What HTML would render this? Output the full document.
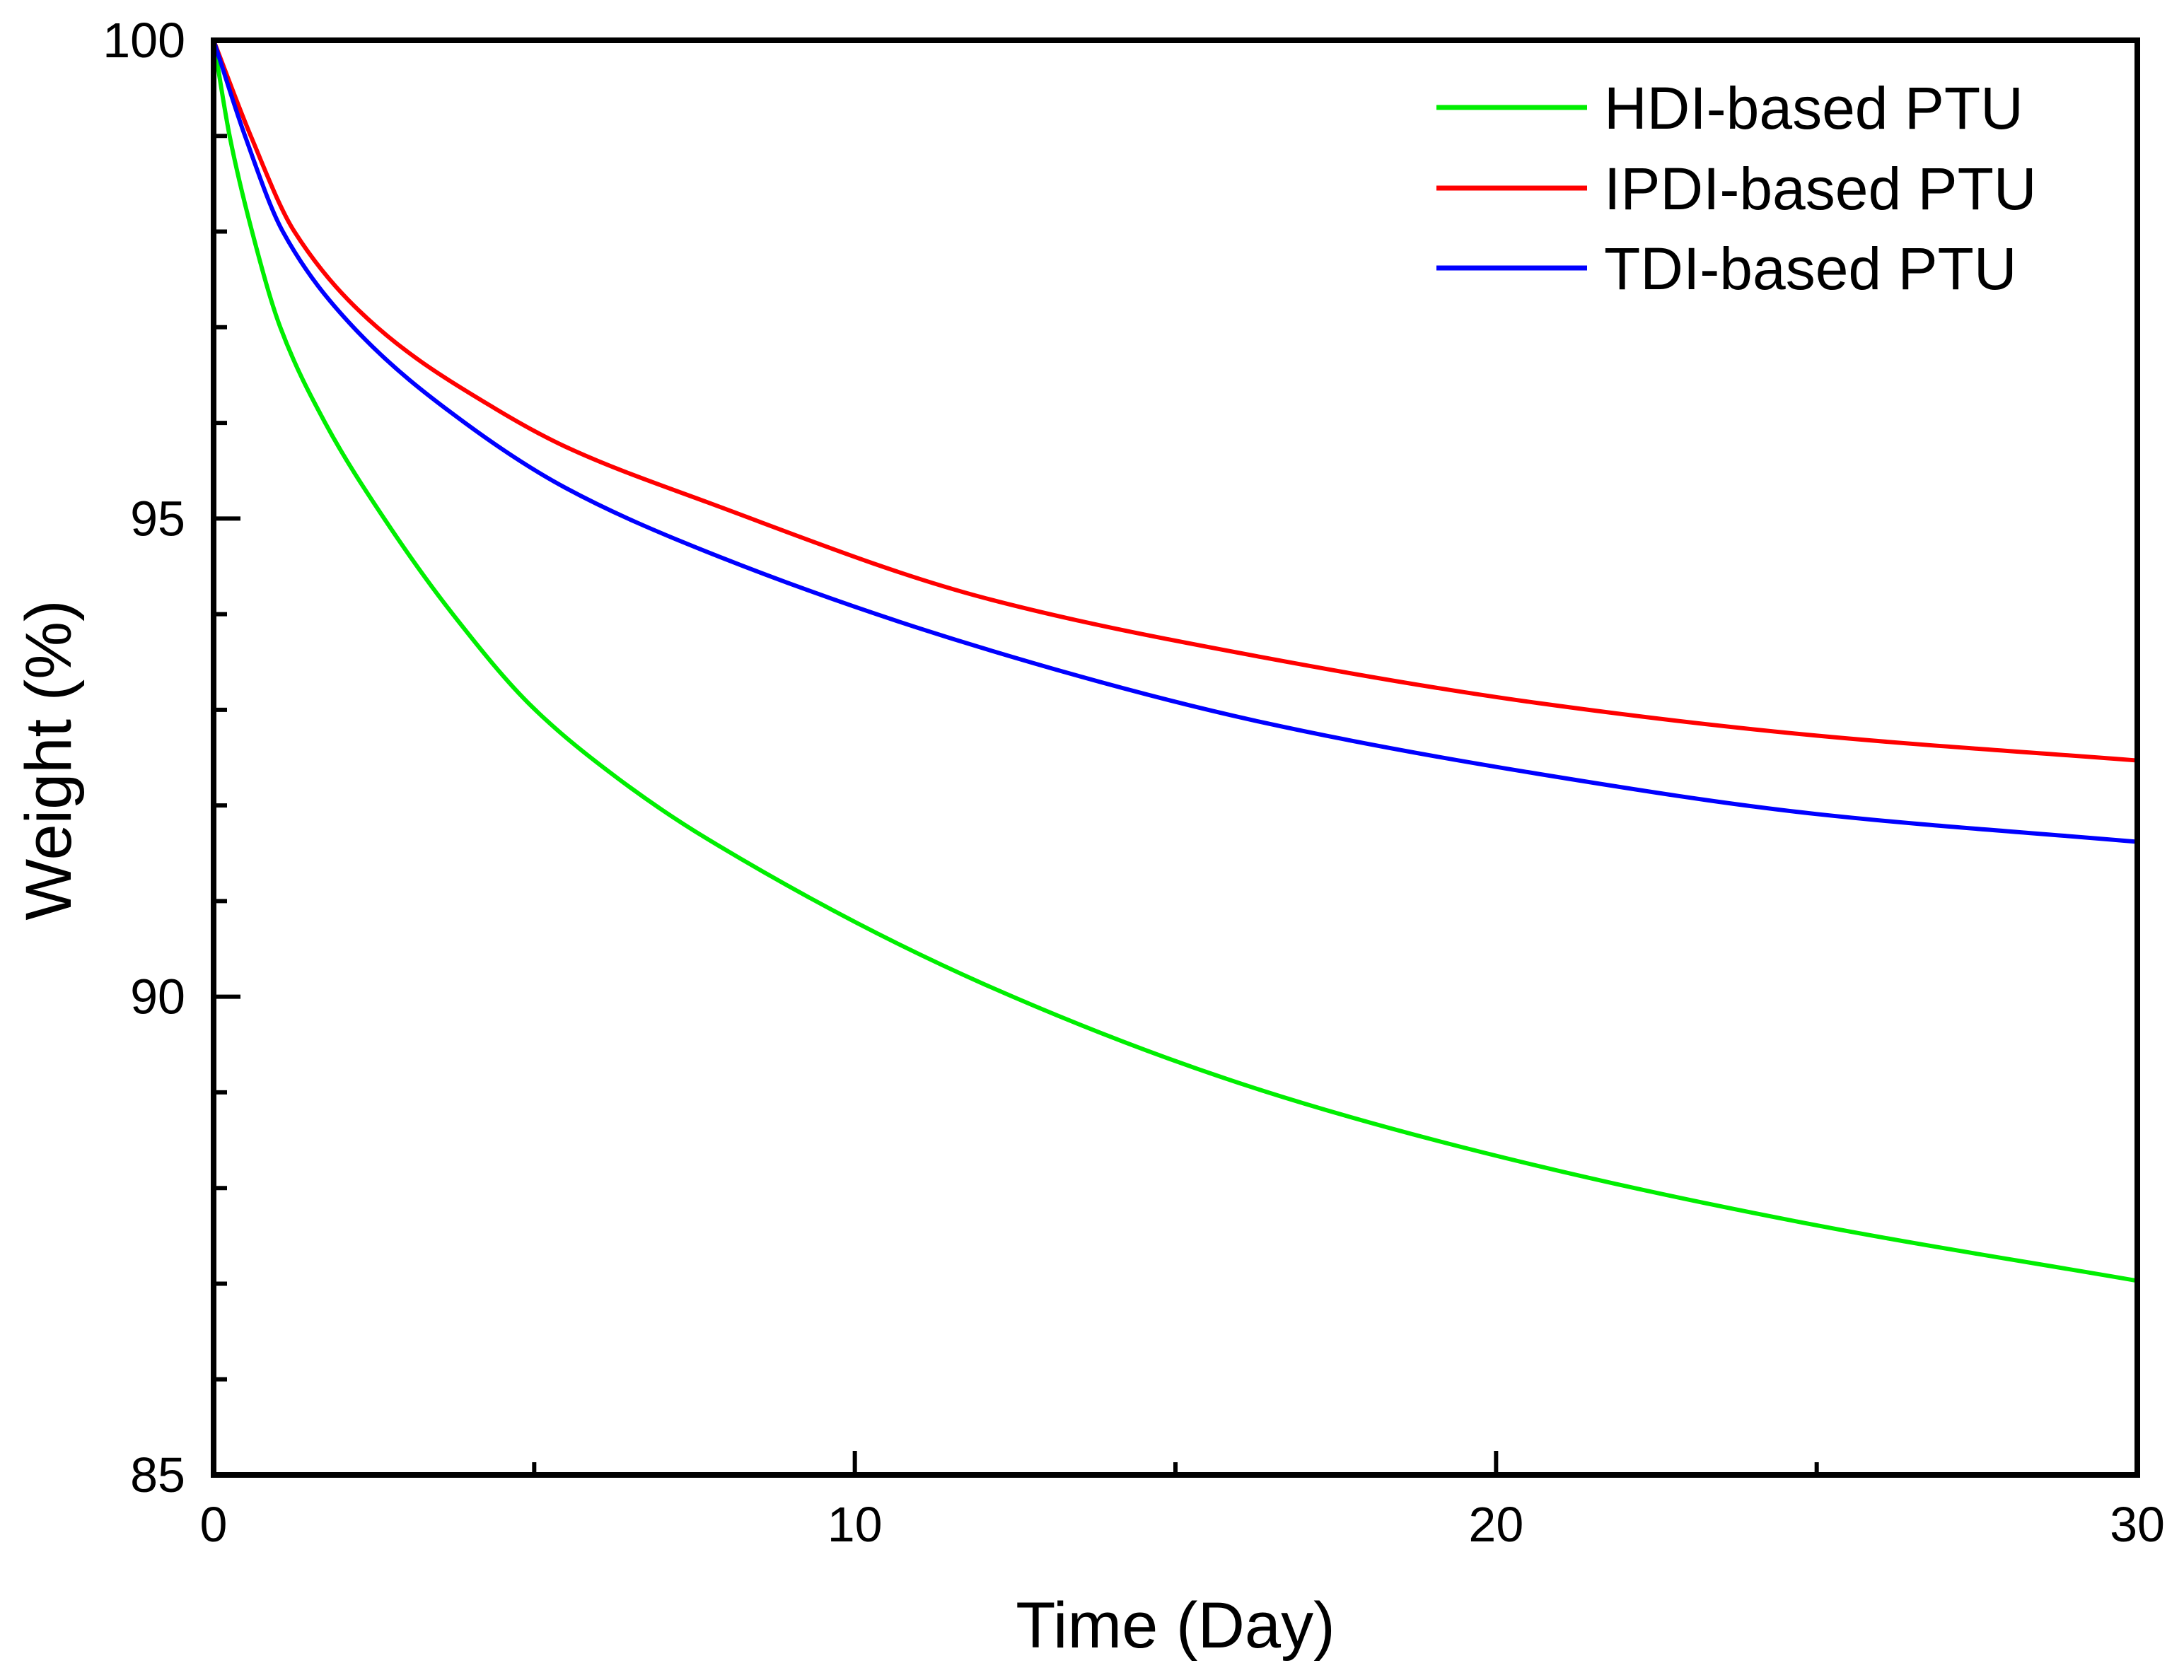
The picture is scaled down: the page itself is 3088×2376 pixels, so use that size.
<!DOCTYPE html>
<html><head><meta charset="utf-8"><style>
html,body{margin:0;padding:0;background:#fff;}
svg text{font-family:"Liberation Sans",Arial,sans-serif;fill:#000;}
</style></head><body>
<svg id="chart" width="3088" height="2371" viewBox="0 0 3088 2371" xmlns="http://www.w3.org/2000/svg">
<rect width="3088" height="2371" fill="#fff"/>
<g id="series"></g>
<g id="axes"></g>
<text x="1662" y="2330" font-size="92" text-anchor="middle">Time (Day)</text>
<text transform="translate(100,1075) rotate(-90)" font-size="92" text-anchor="middle">Weight (%)</text>
<g>
<line x1="2031" x2="2244" y1="152" y2="152" stroke="#00ee00" stroke-width="7"/>
<text x="2268" y="182" font-size="84">HDI-based PTU</text>
<line x1="2031" x2="2244" y1="266" y2="266" stroke="#ff0000" stroke-width="7"/>
<text x="2268" y="296" font-size="84">IPDI-based PTU</text>
<line x1="2031" x2="2244" y1="379" y2="379" stroke="#0000ff" stroke-width="7"/>
<text x="2268" y="409" font-size="84">TDI-based PTU</text>
</g>
</svg>
<script>
const hdiDays = [0,0.25,0.6,1.04,1.74,2.66,3.73,4.97,6.31,7.7,12.02,16.35,20.66,25,30];
const hdiValues = [100,99,98,97,96,95,94,93.03,92.28,91.65,90.13,89.02,88.23,87.61,87.03];
const ipdiDays = [0,0.58,1.26,2.55,4.39,5.49,7.7,12.02,16.35,20.66,25,30];
const ipdiValues = [100,99,98,97,96.15,95.75,95.17,94.17,93.55,93.07,92.73,92.47];
const tdiDays = [0,0.49,1.08,2.18,3.92,5.49,7.7,12.02,16.35,20.66,25,30];
const tdiValues = [100,99,98,97,96,95.32,94.65,93.64,92.87,92.33,91.91,91.62];
const xTicks = [0,10,20,30];
const xMinor = [5,15,25];
const yTicks = [85,90,95,100];
const yMinor = [86,87,88,89,91,92,93,94,96,97,98,99];

const L=302,R=3022,T=57,B=2086;
const xMin=0,xMax=30,yMin=85,yMax=100;
function sx(v){return L+(v-xMin)/(xMax-xMin)*(R-L);}
function sy(v){return B-(v-yMin)/(yMax-yMin)*(B-T);}
const NS='http://www.w3.org/2000/svg';
function mk(tag,attrs,parent){const e=document.createElementNS(NS,tag);for(const k in attrs)e.setAttribute(k,attrs[k]);parent.appendChild(e);return e;}

function pathFor(xs,vals){
  const X=xs.map(sx),Y=vals.map(sy),n=X.length;
  const d=[],m=new Array(n);
  for(let i=0;i<n-1;i++)d.push((Y[i+1]-Y[i])/(X[i+1]-X[i]));
  m[0]=d[0];m[n-1]=d[n-2];
  for(let i=1;i<n-1;i++){
    if(d[i-1]*d[i]<=0)m[i]=0;
    else{const h0=X[i]-X[i-1],h1=X[i+1]-X[i];const w1=2*h1+h0,w2=h1+2*h0;m[i]=(w1+w2)/(w1/d[i-1]+w2/d[i]);}
  }
  let s='M'+X[0]+','+Y[0];
  for(let i=0;i<n-1;i++){
    const h=(X[i+1]-X[i])/3;
    s+=' C'+(X[i]+h)+','+(Y[i]+m[i]*h)+' '+(X[i+1]-h)+','+(Y[i+1]-m[i+1]*h)+' '+X[i+1]+','+Y[i+1];
  }
  return s;
}
const sg=document.getElementById('series');
const defs=[['hdi',hdiDays,hdiValues,'#00ee00'],['ipdi',ipdiDays,ipdiValues,'#ff0000'],['tdi',tdiDays,tdiValues,'#0000ff']];
defs.forEach(([n,x,v,c])=>{
  const e=mk('path',{d:pathFor(x,v),fill:'none',stroke:c,'stroke-width':6},sg);
  
  
});

const ag=document.getElementById('axes');
const frame=mk('rect',{x:L,y:T,width:R-L,height:B-T,fill:'none',stroke:'#000','stroke-width':8},ag);


xTicks.forEach(v=>{
  const t=mk('line',{x1:sx(v),x2:sx(v),y1:B,y2:B-34,stroke:'#000','stroke-width':6},ag);
  
  
  const l=mk('text',{x:sx(v),y:2180,'font-size':70,'text-anchor':'middle'},ag);
  l.textContent=v;
  
  
});
xMinor.forEach(v=>{
  const t=mk('line',{x1:sx(v),x2:sx(v),y1:B,y2:B-18,stroke:'#000','stroke-width':6},ag);
  
  
});
yTicks.forEach(v=>{
  const t=mk('line',{x1:L,x2:L+38,y1:sy(v),y2:sy(v),stroke:'#000','stroke-width':6},ag);
  
  
  const l=mk('text',{x:262,y:sy(v)+24,'font-size':70,'text-anchor':'end'},ag);
  l.textContent=v;
  
  
});
yMinor.forEach(v=>{
  const t=mk('line',{x1:L,x2:L+19,y1:sy(v),y2:sy(v),stroke:'#000','stroke-width':6},ag);
  
  
});
</script>
</body></html>
